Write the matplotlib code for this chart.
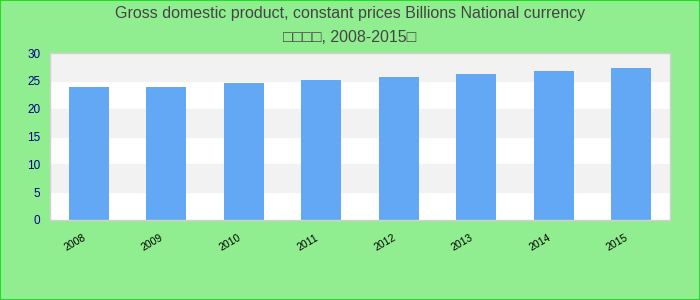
import matplotlib
matplotlib.use("Agg")
import matplotlib.pyplot as plt
from matplotlib.patches import Rectangle

plt.rcParams['font.family'] = ['Liberation Sans', 'DejaVu Sans']

# data
years = ["2008", "2009", "2010", "2011", "2012", "2013", "2014", "2015"]
gdp = [23.9, 23.9, 24.6, 25.2, 25.7, 26.2, 26.8, 27.3]
yticks = [0, 5, 10, 15, 20, 25, 30]

title = "Gross domestic product, constant prices Billions National currency\n\u25a1\u25a1\u25a1\u25a1, 2008-2015\u25a1"

fig = plt.figure(figsize=(7, 3), dpi=100, facecolor="#90ee90")
ax = fig.add_axes([50/700, 80/300, 620/700, 167/300])
ax.set_facecolor("white")

# alternating bands
for i in range(len(yticks) - 1):
    if i % 2 == 1:
        ax.axhspan(yticks[i], yticks[i + 1], color="#f2f2f2", zorder=0)

x = list(range(len(years)))
ax.bar(x, gdp, width=0.52, color="#62a8f4", zorder=2)

ax.set_xlim(-0.5, len(years) - 0.5)
ax.set_ylim(0, 30)
ax.set_yticks(yticks)
ax.set_yticklabels([str(t) for t in yticks], color="#00008b", fontsize=8.5)
ax.set_xticks([i - 0.08 for i in x])
ax.set_xticklabels(years, rotation=30, fontsize=7.5, color="black", ha="right",
                   rotation_mode="anchor")
ax.tick_params(axis="both", length=0)
ax.tick_params(axis="x", pad=9)
ax.tick_params(axis="y", pad=7)
for s in ax.spines.values():
    s.set_color("#d0d0d0")
    s.set_linewidth(1)

fig.text(0.5, 1 - 25.5/300, title, ha="center", va="center", fontsize=11.5,
         color="#444444", linespacing=1.8)

# outer border
fig.patches.append(Rectangle((0, 0), 1, 1, transform=fig.transFigure,
                             fill=False, edgecolor="#22dd22", linewidth=1.5))

fig.savefig("out.png", dpi=100, facecolor=fig.get_facecolor())
